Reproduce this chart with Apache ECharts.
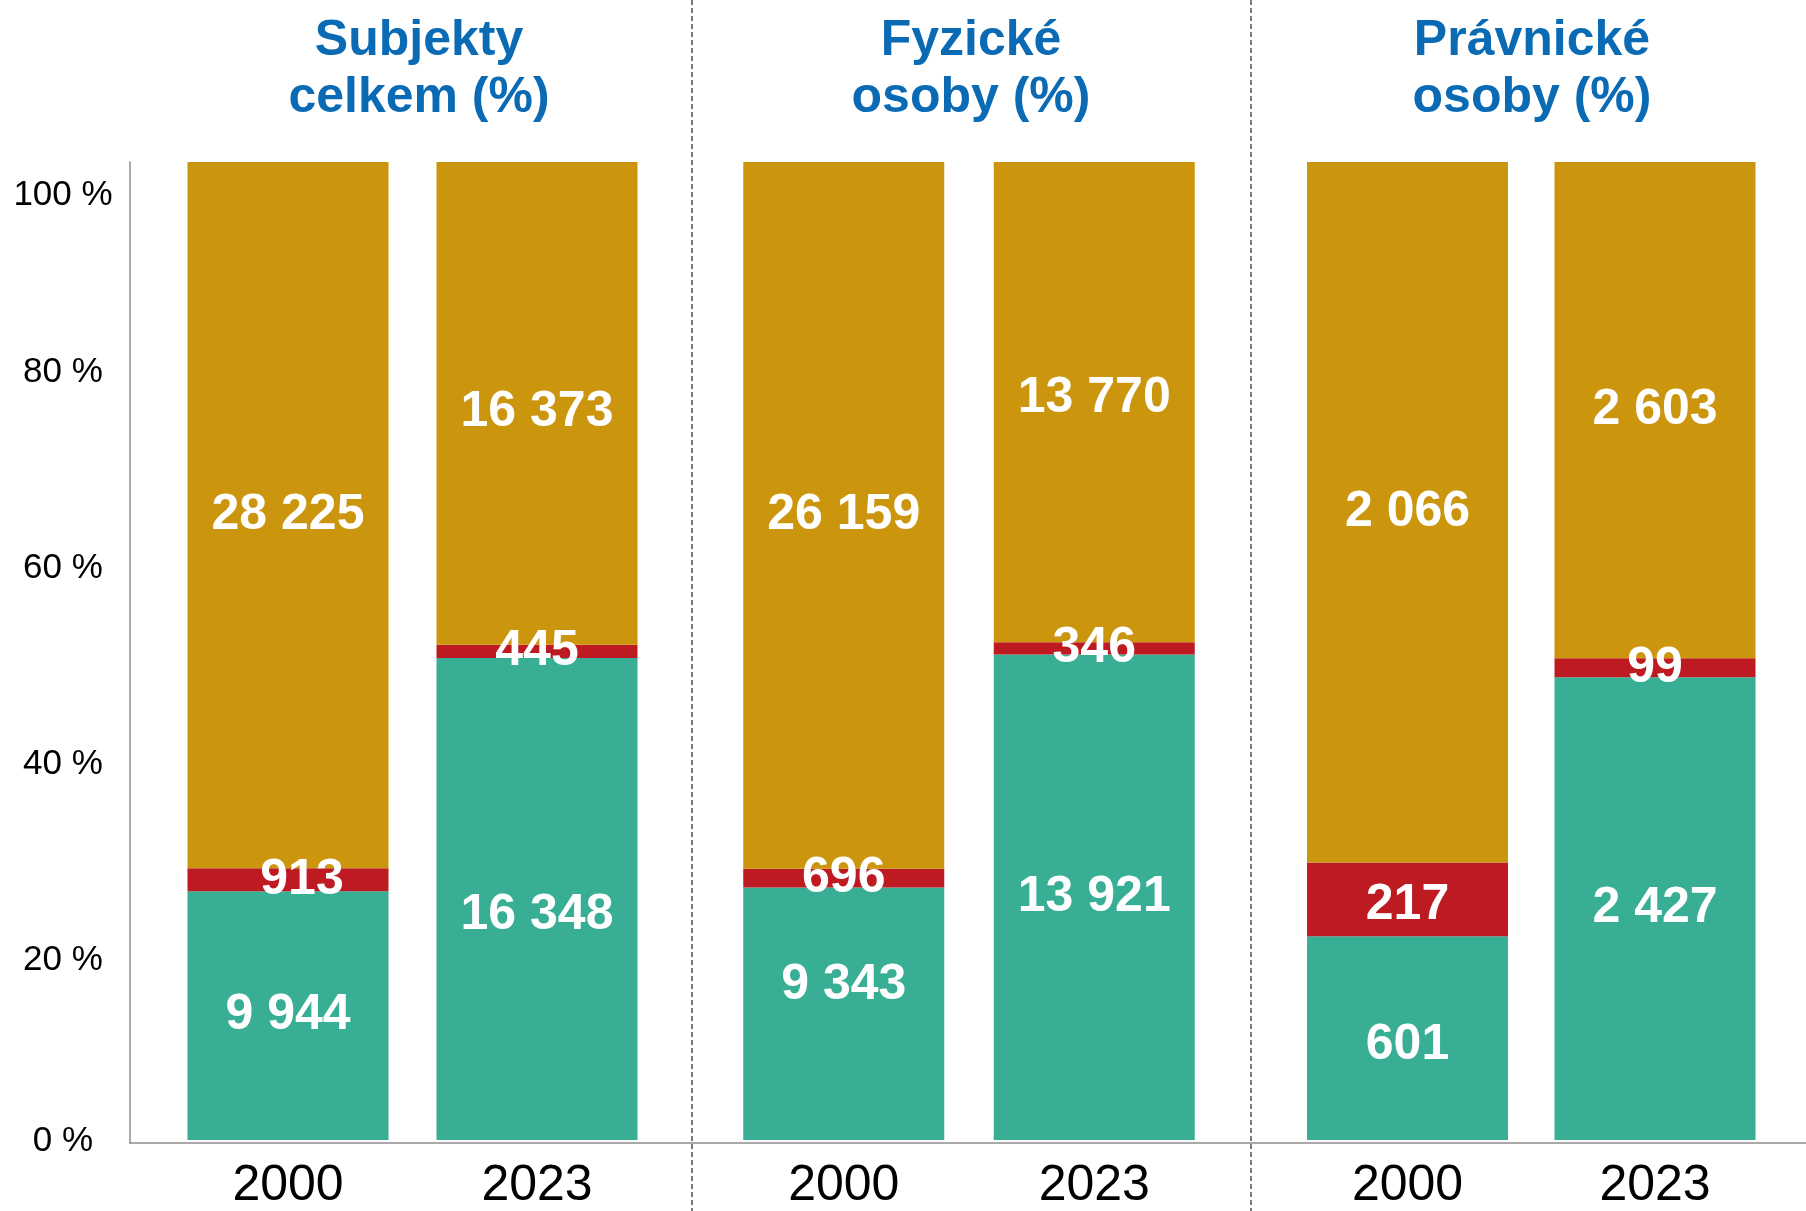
<!DOCTYPE html>
<html>
<head>
<meta charset="utf-8">
<title>Subjekty</title>
<script src="https://cdn.jsdelivr.net/npm/echarts@6/dist/echarts.min.js"></script>
<style>
  html, body { margin: 0; padding: 0; background: #fff; }
  #chart { width: 1806px; height: 1211px; }
</style>
</head>
<body>
<div id="chart"></div>
<script>
// data (order: celkem 2000, celkem 2023, fyzické 2000, fyzické 2023, právnické 2000, právnické 2023)
const years = ['2000', '2023']
const panelTitles = ['Subjekty\ncelkem (%)', 'Fyzické\nosoby (%)', 'Právnické\nosoby (%)']
const greenCounts = [9944, 16348, 9343, 13921, 601, 2427]
const redCounts = [913, 445, 696, 346, 217, 99]
const goldCounts = [28225, 16373, 26159, 13770, 2066, 2603]
const yTicks = [0, 20, 40, 60, 80, 100]

const FONT = '"Liberation Sans", Arial, sans-serif'
const colors = { green: '#38ae94', red: '#be1a22', gold: '#cb960e' }

// layout of the three panels
const panels = [
  { left: 163.5, width: 498, titleX: 414 },
  { left: 718.5, width: 501, titleX: 966 },
  { left: 1283.75, width: 495, titleX: 1527 }
]
const TOP = 162
const BOTTOM = 68

// hand placed label nudges as in the original [dx, dy], keyed by series + index
const labelNudge = {
  green1: [0, 16], green2: [0, -29], green4: [0, 7],
  red0: [14, 0], red4: [0, 6],
  gold1: [0, 9], gold3: [0, -4]
}

function fmt(v) {
  return String(v).replace(/\B(?=(\d{3})+(?!\d))/g, ' ')
}

function pct(counts, i) {
  const total = greenCounts[i] + redCounts[i] + goldCounts[i]
  return counts[i] / total * 100
}

const chart = echarts.init(document.getElementById('chart'))

const grids = [{ left: 130, right: 0, top: TOP, bottom: BOTTOM }]
const xAxes = [{
  gridIndex: 0,
  type: 'category',
  data: [''],
  axisLine: { lineStyle: { color: '#8c8c8c', width: 1.5 } },
  axisTick: { show: false },
  axisLabel: { show: false }
}]
const yAxes = [{
  gridIndex: 0,
  type: 'value',
  min: 0,
  max: 100,
  interval: 20,
  axisLine: { show: true, lineStyle: { color: '#8c8c8c', width: 1.5 } },
  axisTick: { show: false },
  splitLine: { show: false },
  axisLabel: {
    align: 'center',
    margin: 67,
    formatter: function (v) {
      if (v === 100) return '{t|' + v + ' %}'
      if (v === 0) return '{b|' + v + ' %}'
      return '{m|' + v + ' %}'
    },
    rich: {
      t: { fontSize: 35, fontFamily: FONT, color: '#000', padding: [66, 0, 0, 0] },
      m: { fontSize: 35, fontFamily: FONT, color: '#000', padding: [28, 0, 0, 0] },
      b: { fontSize: 35, fontFamily: FONT, color: '#000', padding: [0, 0, 4, 0] }
    }
  }
}]
const titles = []
const series = []

function makeLabel(name, i) {
  const n = labelNudge[name + i] || [0, 0]
  return {
    show: true,
    position: 'inside',
    offset: n,
    color: '#fff',
    fontSize: 50,
    fontWeight: 'bold',
    fontFamily: FONT,
    formatter: function (p) { return fmt(p.data.raw) }
  }
}

panels.forEach(function (p, k) {
  const g = k + 1
  grids.push({ left: p.left, width: p.width, top: TOP, bottom: BOTTOM })
  xAxes.push({
    gridIndex: g,
    type: 'category',
    data: years,
    axisLine: { show: false },
    axisTick: { show: false },
    axisLabel: { fontSize: 50, color: '#000', fontFamily: FONT, margin: 21 }
  })
  yAxes.push({ gridIndex: g, type: 'value', min: 0, max: 100, show: false })
  titles.push({
    text: panelTitles[k],
    left: p.titleX,
    top: 8,
    textAlign: 'center',
    textStyle: { fontSize: 50, fontWeight: 'bold', color: '#0a6ab4', lineHeight: 57, fontFamily: FONT }
  })
  const idx = [2 * k, 2 * k + 1]
  ;[['green', greenCounts], ['red', redCounts], ['gold', goldCounts]].forEach(function (s) {
    series.push({
      type: 'bar',
      name: s[0],
      xAxisIndex: g,
      yAxisIndex: g,
      stack: 'panel' + k,
      barWidth: 201,
      itemStyle: { color: colors[s[0]] },
      data: idx.map(function (i) {
        return { value: pct(s[1], i), raw: s[1][i], label: makeLabel(s[0], i) }
      })
    })
  })
})

chart.setOption({
  animation: false,
  title: titles,
  grid: grids,
  xAxis: xAxes,
  yAxis: yAxes,
  series: series,
  graphic: [692, 1251].map(function (x) {
    return {
      type: 'line',
      shape: { x1: x, y1: 0, x2: x, y2: 1211 },
      style: { stroke: '#7a7a7a', lineWidth: 2, lineDash: [5, 3] },
      z: 0
    }
  })
})
</script>
</body>
</html>
